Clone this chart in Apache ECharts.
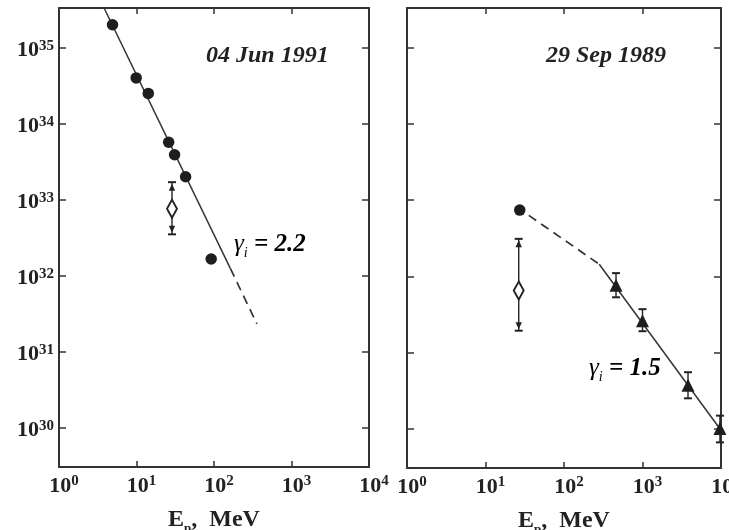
<!DOCTYPE html>
<html><head><meta charset="utf-8">
<script src="https://cdn.jsdelivr.net/npm/echarts@6/dist/echarts.min.js"></script>
<style>html,body{margin:0;padding:0;background:#fff}#c{width:729px;height:530px}</style>
</head><body><div id="c"></div>
<script>
// ---- Left panel: 04 Jun 1991 ----
const junPoints = [[4.9,2.0e35],[9.9,4.0e34],[14.2,2.5e34],[26,5.7e33],[31,3.9e33],[43,2.0e33],[92,1.66e32]];
const junFitSolid = [[3.83,3.3e35],[163,1.24e32]];
const junFitDashed = [[163,1.24e32],[357,2.33e31]];
const junDiamond = [[28.7,7.6e32]];
const junDiamondErr = [[28.7,3.5e32,1.7e33]];
// ---- Right panel: 29 Sep 1989 ----
const sepCircle = [[27.3,7.4e32]];
const sepDiamond = [[26.5,6.5e31]];
const sepDiamondErr = [[26.5,1.93e31,3.1e32]];
const sepTriangles = [[460,7.6e31],[1000,2.6e31],[3800,3.7e30],[9700,1.0e30]];
const sepTriangleErr = [[460,5.3e31,1.1e32],[1000,1.9e31,3.7e31],[3800,2.5e30,5.5e30],[9700,6.6e29,1.48e30]];
const sepFitDashed = [[35.6,6.3e32],[281,1.44e32]];
const sepFitSolid = [[281,1.44e32],[10000,9.5e29]];
// ---- tick labels (exponents of 10) ----
const xTickExp = [0,1,2,3,4];
const yTickExp = [30,31,32,33,34,35];
const xRange = [1, 1e4];
const yRange = [Math.pow(10,29.483), Math.pow(10,35.522)];
const panelTitles = ['04 Jun 1991','29 Sep 1989'];
const gammaLabels = ['2.2','1.5'];
const axisTitle = ['E','p',',  MeV'];

const INK = '#222';
const SERIF = '"Liberation Serif", "Times New Roman", serif';

function expOf(v, list){
  const l = Math.log10(v), e = Math.round(l);
  if (Math.abs(l-e) > 0.01 || list.indexOf(e) < 0) return null;
  return e;
}
const supRich = {
  b:{fontFamily:SERIF,fontWeight:'bold',fontSize:22,color:INK,verticalAlign:'bottom',padding:[0,0,0,0]},
  s:{fontFamily:SERIF,fontWeight:'bold',fontSize:15,color:INK,verticalAlign:'bottom',padding:[0,0,8,0]}
};
const yRich = {
  b:Object.assign({},supRich.b,{padding:[5,0,0,0]}),
  s:supRich.s
};
const xRich = {
  b:Object.assign({},supRich.b,{padding:[0,0,0,10]}),
  s:supRich.s
};
const nameRich = {
  b:{fontFamily:SERIF,fontWeight:'bold',fontSize:24,color:INK,verticalAlign:'bottom',padding:[0,0,3,0]},
  p:{fontFamily:SERIF,fontWeight:'bold',fontSize:13,color:INK,verticalAlign:'bottom'}
};
const lineCol = '#333';
function xAx(grid, pos, labels){
  return {
    type:'log', logBase:10, gridIndex:grid, position:pos, min:xRange[0], max:xRange[1],
    axisLine:{show:true,onZero:false,lineStyle:{color:lineCol,width:2}},
    axisTick:{show:true,inside:true,length:6,lineStyle:{color:lineCol,width:1.5}},
    minorTick:{show:false}, splitLine:{show:false}, minorSplitLine:{show:false},
    axisLabel:{show:labels, margin:7, rich:xRich,
      formatter:v=>{const e=expOf(v,xTickExp); return e===null?'':'{b|10}{s|'+e+'}';}},
    name: labels ? '{b|'+axisTitle[0]+'}{p|'+axisTitle[1]+'}{b|'+axisTitle[2]+'}' : '',
    nameLocation:'middle', nameGap:41, nameTextStyle:{rich:nameRich}
  };
}
function yAx(grid, pos, labels){
  return {
    type:'log', logBase:10, gridIndex:grid, position:pos, min:yRange[0], max:yRange[1],
    axisLine:{show:true,onZero:false,lineStyle:{color:lineCol,width:2}},
    axisTick:{show:true,inside:true,length:7,lineStyle:{color:lineCol,width:1.5}},
    minorTick:{show:false}, splitLine:{show:false}, minorSplitLine:{show:false},
    axisLabel:{show:labels, margin:5, rich:yRich,
      formatter:v=>{const e=expOf(v,yTickExp); return e===null?'':'{b|10}{s|'+e+'}';}}
  };
}
function errRender(withArrow){
  return function(params, api){
    const x=api.value(0), lo=api.value(1), hi=api.value(2);
    const a=api.coord([x,lo]), b=api.coord([x,hi]);
    const w=4, st={stroke:'#222',lineWidth:1.4}, fill={fill:'#222'};
    const ch=[
      {type:'line',shape:{x1:a[0],y1:a[1],x2:b[0],y2:b[1]},style:st},
      {type:'line',shape:{x1:a[0]-w,y1:a[1],x2:a[0]+w,y2:a[1]},style:{stroke:'#222',lineWidth:2}},
      {type:'line',shape:{x1:b[0]-w,y1:b[1],x2:b[0]+w,y2:b[1]},style:{stroke:'#222',lineWidth:2}}
    ];
    if(withArrow){
      ch.push({type:'polygon',shape:{points:[[b[0],b[1]+1.5],[b[0]-3.2,b[1]+8.5],[b[0]+3.2,b[1]+8.5]]},style:fill});
      ch.push({type:'polygon',shape:{points:[[a[0],a[1]-1.5],[a[0]-3.2,a[1]-8.5],[a[0]+3.2,a[1]-8.5]]},style:fill});
    }
    return {type:'group',children:ch};
  };
}
function panelSeries(xi, yi){ return {xAxisIndex:xi, yAxisIndex:yi}; }
const L = panelSeries(0,0), R = panelSeries(2,2);
const lineBase = {type:'line', symbol:'none', silent:true, animation:false};
const dash = [9,6];
const series = [
  Object.assign({},lineBase,L,{data:junFitSolid,lineStyle:{color:'#333',width:1.5},z:2}),
  Object.assign({},lineBase,L,{data:junFitDashed,lineStyle:{color:'#333',width:1.7,type:dash},z:2}),
  Object.assign({type:'scatter',symbol:'circle',symbolSize:11.5,data:junPoints,itemStyle:{color:'#1e1e1e',opacity:1},z:3},L),
  Object.assign({type:'custom',renderItem:errRender(true),data:junDiamondErr,encode:{x:0,y:[1,2]},z:3},L),
  Object.assign({type:'scatter',symbol:'diamond',symbolSize:[10,18],data:junDiamond,itemStyle:{color:'#fff',borderColor:'#222',borderWidth:2,opacity:1},z:4},L),

  Object.assign({},lineBase,R,{data:sepFitDashed,lineStyle:{color:'#333',width:1.7,type:dash},z:2}),
  Object.assign({},lineBase,R,{data:sepFitSolid,lineStyle:{color:'#333',width:1.5},z:2}),
  Object.assign({type:'scatter',symbol:'circle',symbolSize:11.5,data:sepCircle,itemStyle:{color:'#1e1e1e',opacity:1},z:3},R),
  Object.assign({type:'custom',renderItem:errRender(true),data:sepDiamondErr,encode:{x:0,y:[1,2]},z:3},R),
  Object.assign({type:'scatter',symbol:'diamond',symbolSize:[10,18],data:sepDiamond,itemStyle:{color:'#fff',borderColor:'#222',borderWidth:2,opacity:1},z:4},R),
  Object.assign({type:'custom',renderItem:errRender(false),data:sepTriangleErr,encode:{x:0,y:[1,2]},z:3},R),
  Object.assign({type:'scatter',symbol:'triangle',symbolSize:13,data:sepTriangles,itemStyle:{color:'#1e1e1e',opacity:1},z:4},R)
];
const gRich = {
  g:{fontFamily:SERIF,fontStyle:'italic',fontSize:25,color:INK,verticalAlign:'bottom',padding:[0,0,3,0]},
  i:{fontFamily:SERIF,fontStyle:'italic',fontSize:14,color:INK,verticalAlign:'bottom'},
  t:{fontFamily:SERIF,fontStyle:'italic',fontWeight:'bold',fontSize:25,color:INK,verticalAlign:'bottom',padding:[0,0,3,0]}
};
const titleFont = 'italic bold 24px ' + SERIF;
const option = {
  backgroundColor:'#fff',
  animation:false,
  grid:[
    {left:59,right:360,top:8,bottom:63,outerBoundsMode:'none',containLabel:false},
    {left:407,right:8,top:8,bottom:62,outerBoundsMode:'none',containLabel:false}
  ],
  xAxis:[xAx(0,'bottom',true), xAx(0,'top',false), xAx(1,'bottom',true), xAx(1,'top',false)],
  yAxis:[yAx(0,'left',true), yAx(0,'right',false), yAx(1,'left',false), yAx(1,'right',false)],
  series:series,
  graphic:[
    {type:'text',x:206,y:56,style:{text:panelTitles[0],font:titleFont,fill:INK,verticalAlign:'middle'}},
    {type:'text',x:546,y:56,style:{text:panelTitles[1],font:titleFont,fill:INK,verticalAlign:'middle'}},
    {type:'text',x:234,y:246,style:{text:'{g|γ}{i|i}{t| = '+gammaLabels[0]+'}',rich:gRich,verticalAlign:'middle'}},
    {type:'text',x:589,y:370,style:{text:'{g|γ}{i|i}{t| = '+gammaLabels[1]+'}',rich:gRich,verticalAlign:'middle'}}
  ]
};
const chart = echarts.init(document.getElementById('c'), null, {renderer:'canvas'});
chart.setOption(option);
</script>
</body></html>
